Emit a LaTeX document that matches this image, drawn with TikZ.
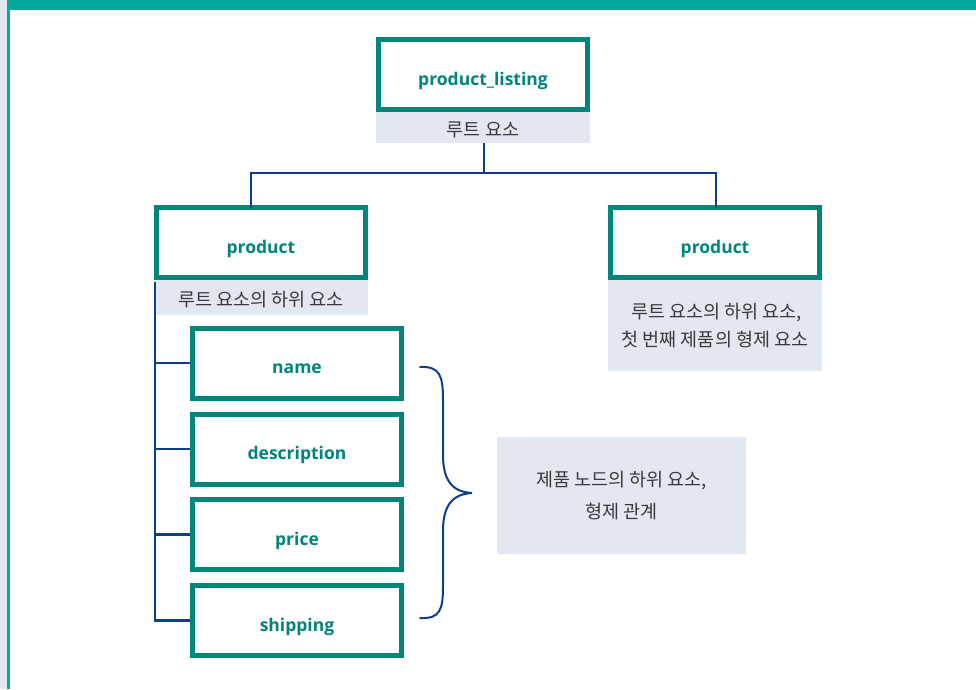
\documentclass[tikz,border=0pt]{standalone}
\usepackage{fontspec}
\setmainfont{Open Sans}
\newfontfamily\kr{Noto Sans CJK KR}
\usetikzlibrary{calc}
\definecolor{teal1}{HTML}{00857C}
\definecolor{bar}{HTML}{02A99E}
\definecolor{graybg}{HTML}{E3E7EF}
\definecolor{lineblue}{HTML}{0D3F87}
\definecolor{txt}{HTML}{3A3A3A}
\tikzset{
  tbox/.style={draw=teal1, line width=5pt, fill=white, minimum width=209pt, minimum height=70pt, inner sep=0pt, text height=21pt, text depth=0pt, text=teal1, font=\bfseries\fontsize{17.5}{20}\selectfont},
  glabel/.style={fill=graybg, inner sep=0pt, text=txt, font=\kr\fontsize{18.5}{28}\selectfont, align=center},
  conn/.style={draw=lineblue, line width=2.4pt}
}
\begin{document}
\begin{tikzpicture}[x=1pt,y=1pt]
\useasboundingbox (0,0) rectangle (976,-689);
\fill[white] (0,0) rectangle (976,-689);
\fill[graybg] (0,0) rectangle (7,-689);
\fill[bar] (7,0) rectangle (10,-689);
\fill[bar] (7,0) rectangle (976,-10);

% gray labels
\fill[graybg] (376,-112) rectangle (590,-143);
\node[glabel] (lab0) at (483,-129.5) {루트 요소};
\fill[graybg] (154,-280) rectangle (368,-315);
\node[glabel] (lab1) at (261,-300) {루트 요소의 하위 요소};
\fill[graybg] (608,-280) rectangle (822,-371);
\node[glabel] (lab2) at (715,-326) {\,루트 요소의 하위 요소,\\첫 번째 제품의 형제 요소};
\fill[graybg] (497,-437) rectangle (746,-554);
\node[glabel, font=\kr\fontsize{18.5}{32}\selectfont] (lab3) at (621.5,-496) {제품 노드의 하위 요소,\\형제 관계};

% teal boxes
\node[tbox] (root) at (483,-74.5) {product\_listing};
\node[tbox] (lp) at (261,-242.5) {product};
\node[tbox] (rp) at (715,-242.5) {product};
\node[tbox] (name) at (297,-363) {name};
\node[tbox] (desc) at (297,-449) {description};
\node[tbox] (price) at (297,-534.5) {price};
\node[tbox] (ship) at (297,-620.5) {shipping};

% connectors
\coordinate (hub) at (484,-173);
\coordinate (lpin) at (251,-207.5);
\coordinate (rpin) at (716,-207.5);
\coordinate (lab0s) at (484,-143);
\draw[conn] (lab0s) -- (hub);
\draw[conn] (hub) -| (lpin);
\draw[conn] (hub) -| (rpin);
\coordinate (spine) at (155,-282);
\draw[conn] (spine) |- (ship.west);
\draw[conn] (spine |- name.west) -- (name.west);
\draw[conn] (spine |- desc.west) -- (desc.west);
\draw[conn] (spine |- price.west) -- (price.west);

% brace
\coordinate (btop) at (420,-367);
\coordinate (bbot) at (420,-618);
\coordinate (btip) at (472,-493);
\draw[conn, line width=2pt, line cap=round]
  (btop) .. controls (440,-366) and (443,-376) .. (443,-400)
  -- (443,-455) .. controls (443,-480) and (452,-492) .. (btip)
  .. controls (452,-494) and (443,-506) .. (443,-531)
  -- (443,-586) .. controls (443,-610) and (440,-619) .. (bbot);
\end{tikzpicture}
\end{document}
